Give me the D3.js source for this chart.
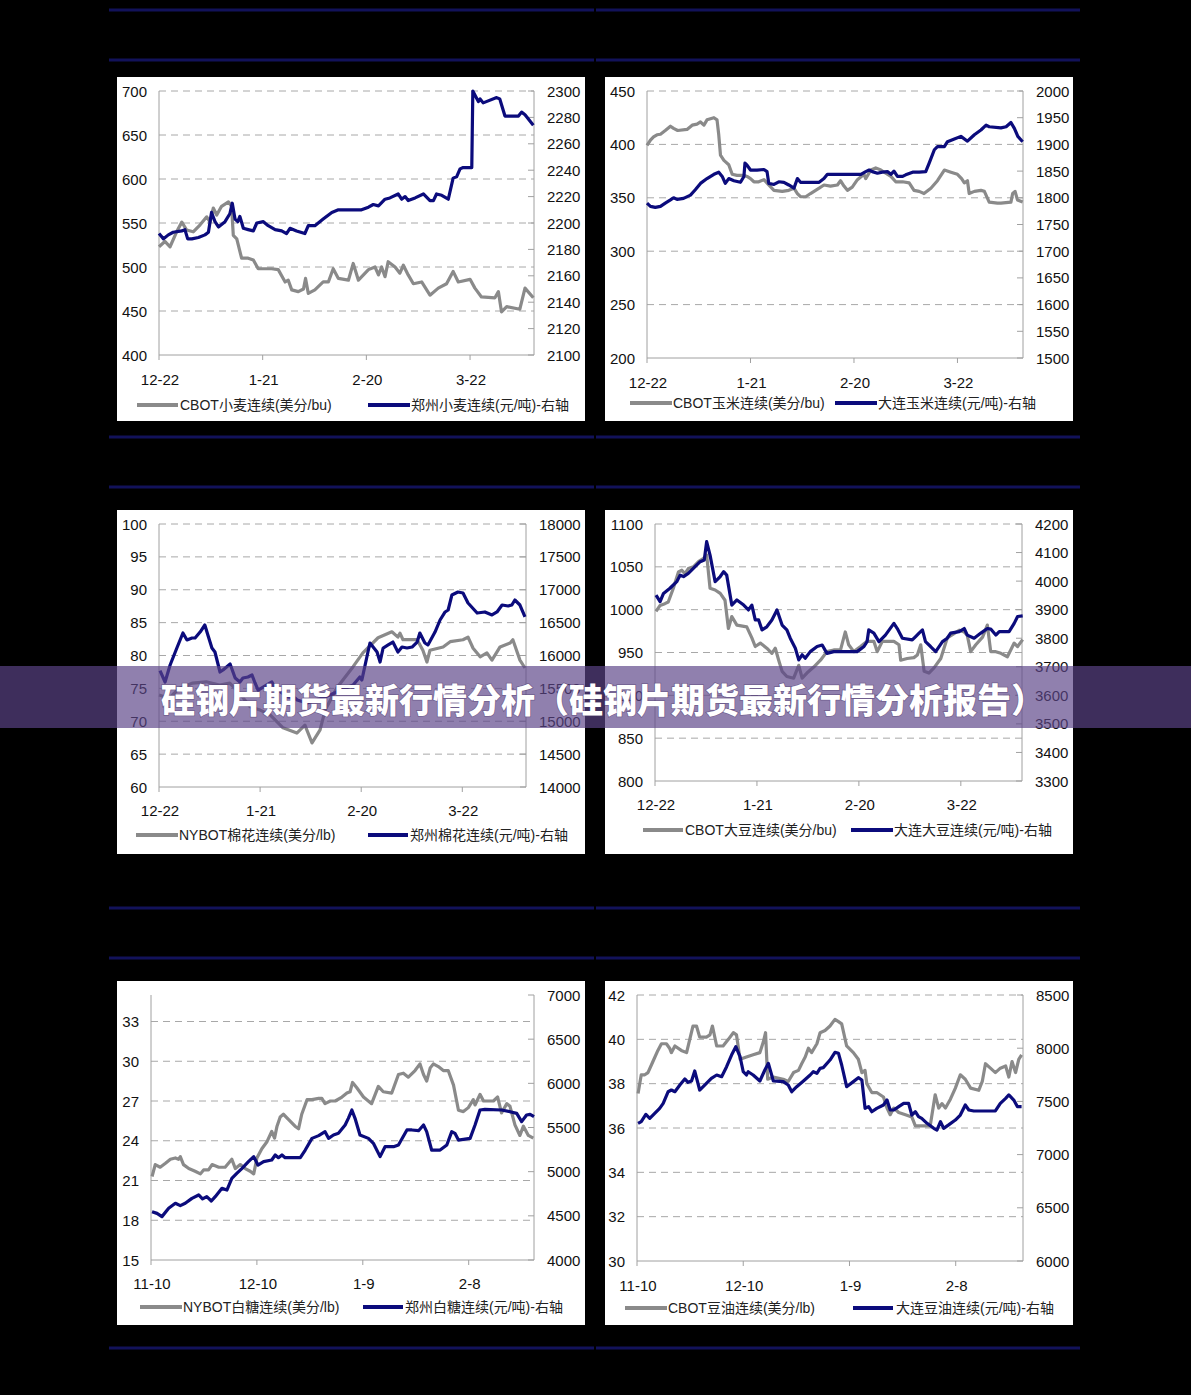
<!DOCTYPE html>
<html>
<head>
<meta charset="utf-8">
<script src="https://cdn.jsdelivr.net/npm/d3@7"></script>
<style>
  body { margin: 0; background: #000; }
  svg { display: block; }
  text { font-family: "Liberation Sans", Arial, "Noto Sans CJK SC", sans-serif; }
</style>
</head>
<body>
<div id="container"></div>
<script>
//x axis labels (day offsets from first label)
var tickDays = [0, 30, 60, 90];
var labelsDec = ["12-22", "1-21", "2-20", "3-22"];
var labelsNov = ["11-10", "12-10", "1-9", "2-8"];

//wheat: [day, value]
var wheatCbot = [[0,523],[1.7,529],[3.2,523],[5.1,540],[6.6,551],[8,542],[9.9,540],[11.9,548],[13.8,557],[14.8,551],[15.7,567],[16.7,559],[18.1,569],[20.1,574],[21,569],[21.5,536],[22.5,532],[23.9,510],[25.8,510],[27.3,508],[28.7,498],[30.2,498],[32.6,498],[34.5,497],[36.5,483],[37.4,485],[38.4,474],[40.3,472],[41.8,475],[42.4,487],[43.2,470],[45.1,474],[47.5,483],[49,483],[50.4,498],[51.9,487],[54.8,485],[56.2,504],[57.7,485],[60.6,497],[62.5,500],[63.5,491],[64.4,500],[65.4,489],[66.3,506],[68.3,500],[69.7,493],[70.7,502],[72.1,491],[73.6,481],[76,483],[78.4,468],[80.8,476],[83.2,481],[85.1,495],[86.6,483],[90,486],[91.4,476],[93.3,466],[97.2,465],[98.2,472],[99.1,449],[100.6,455],[104.4,452],[105.9,476],[108.3,465]];
var wheatZz = [[0,2192],[1.3,2188],[2.7,2191],[4.1,2193],[6.6,2194],[7.5,2195],[8.3,2188],[9.5,2188],[11.4,2189],[13.3,2191],[14.3,2193],[15.2,2208],[16.2,2201],[17.2,2197],[19.1,2201],[20.5,2207],[21.2,2215],[22,2203],[22.8,2201],[23.4,2205],[24.4,2196],[25.8,2195],[27.3,2194],[28.3,2200],[30.2,2201],[31.6,2198],[33.6,2195],[35.5,2194],[36.9,2192],[37.9,2196],[39.8,2194],[42.2,2192],[43.2,2198],[45.1,2198],[47.5,2203],[50,2208],[51.9,2210],[54.8,2210],[58.6,2210],[60.6,2212],[62,2214],[63.5,2213],[65.4,2218],[66.8,2219],[69.2,2222],[70.2,2218],[71.2,2220],[72.1,2217],[74.1,2219],[76.5,2222],[78.4,2217],[79.4,2217],[80.3,2222],[81.8,2221],[83.7,2218],[85.1,2234],[86.1,2235],[87.1,2241],[88,2242],[90.5,2242],[90.8,2300],[91.4,2297],[92.4,2292],[92.9,2294],[93.8,2291],[97.7,2295],[98.6,2294],[100.1,2281],[101.1,2281],[104,2281],[104.9,2284],[105.9,2282],[108.3,2274]];

//corn
var cornCbot = [[0,399],[1,404],[1.9,407],[2.9,409],[3.9,409.5],[5.3,413],[6.8,417],[7.7,415],[8.9,413],[11.6,414],[13.1,418],[14.5,419],[15.5,421],[16.5,418],[17.4,423],[19.4,425],[20.3,423],[20.8,409],[21.3,390],[22.3,385],[23.7,381],[24.7,372],[26.1,371],[28.1,371],[29,370],[30,368],[31,365],[32.4,365],[33.9,367],[35.3,362],[36.8,357],[39.2,356],[41.1,357],[42.6,359],[43.6,354],[44.5,351],[46,351],[47.4,354],[49.9,359],[51.3,362],[53.2,361],[55.2,362],[56.1,366],[57.1,361],[58.1,357],[59.5,360],[61,367],[62.9,372],[63.4,368],[64.9,376],[66.3,378],[67.8,376],[69.2,373],[70.7,370],[72.1,365],[74.1,365],[76,364],[77.4,357],[78.9,356],[80.3,354],[82.3,359],[84.2,366],[86.2,376],[88.1,374],[90,372],[91.2,368],[92,364],[92.9,366],[93.4,354],[94.9,356],[96.8,357],[97.8,356],[99.2,346],[101.6,345],[102.6,345],[105.5,346],[106,354],[106.7,356],[107.4,348],[108.9,346]];
var cornDl = [[0,1790],[1,1784],[2.4,1782],[3.9,1784],[5.3,1790],[6.8,1796],[7.7,1800],[8.7,1797],[10.6,1799],[12.6,1805],[14,1815],[15.5,1827],[17.4,1836],[19.4,1844],[20.8,1848],[21.8,1840],[22.7,1827],[23.7,1836],[25.2,1832],[27.1,1829],[28.1,1840],[28.4,1865],[29,1861],[30,1852],[31.9,1852],[33.9,1853],[34.8,1849],[35.3,1827],[36.8,1825],[38.2,1830],[39.7,1829],[41.1,1824],[42.6,1818],[43.6,1836],[44.5,1829],[46.5,1829],[49.9,1829],[51.3,1836],[52.3,1844],[54.2,1844],[62,1844],[63.4,1849],[64.4,1852],[65.3,1849],[66.8,1846],[68.2,1848],[69.7,1849],[70.7,1844],[71.6,1850],[72.6,1840],[74.1,1840],[75,1843],[77,1848],[78.9,1848],[80.8,1849],[81.8,1865],[83.3,1890],[84.2,1896],[86.2,1896],[87.1,1905],[89.1,1910],[91,1915],[92.9,1906],[94.9,1918],[96.8,1927],[98.3,1936],[99.2,1933],[102.6,1931],[104.1,1933],[105.5,1941],[106.5,1930],[107.5,1915],[108.9,1905]];

//cotton
var cottonNy = [[0,74],[3,73.5],[6,75],[10,75.8],[14,76],[18,75.5],[21,75.8],[24,74.2],[27,72.2],[30,71.7],[32.9,71],[36.8,69],[40.9,68.2],[43.3,69.4],[45.4,66.7],[47.8,68.7],[49.3,71.7],[52.8,75.1],[57.6,78.3],[60.5,80.4],[65,82.7],[69.1,83.6],[70.9,82.8],[71.5,83.4],[72.4,82.4],[76.6,82.4],[78.3,80.8],[79.5,79],[80.4,80.8],[84.3,81.3],[86.4,82.1],[90.2,82.4],[91.7,82.8],[93.2,81.1],[95.3,79.8],[97.3,80.4],[98.8,79.3],[101.2,81.3],[104.2,81.9],[105,82.4],[107.1,79.3],[108.6,78.1]];
var cottonZz = [[0.3,15769],[1.8,15597],[3.3,15855],[5.3,16114],[7.1,16342],[8.3,16236],[9.8,16266],[10.7,16266],[12.2,16357],[13.6,16464],[14.5,16312],[15.7,16114],[16.6,16053],[18.1,15749],[19,15779],[21.1,15870],[22.6,15658],[24,15597],[24.9,15658],[26.4,15673],[27.6,15703],[28.5,15582],[29.4,15475],[33.5,15597],[34.4,15505],[36.5,15430],[38.3,15370],[40.4,15353],[41,15323],[43.9,15277],[46.9,15323],[50.7,15399],[57.6,15551],[59.6,15673],[60.2,15627],[62,16053],[62.6,16190],[64.7,16053],[65.6,15901],[66.5,16114],[68,16160],[69.4,16205],[70.9,16053],[72.1,16129],[73.6,16114],[75.1,16129],[76.6,16205],[77.4,16342],[78.9,16190],[79.8,16160],[81.9,16357],[83.4,16540],[84.9,16662],[85.8,16692],[86.9,16920],[88.7,16966],[90.2,16951],[91.7,16798],[94.4,16646],[96.7,16662],[98.8,16616],[100.3,16662],[101.8,16768],[103.6,16753],[104.7,16768],[105.6,16844],[107.1,16768],[108.6,16586]];

//soybean
var soyCbot = [[0.3,998],[1.5,1005],[2.9,1007],[3.9,1009],[5.4,1025],[6.9,1044],[7.9,1046],[8.8,1042],[9.8,1048],[11.3,1050],[12.8,1056],[14.3,1060],[15.2,1064],[16.2,1025],[17.7,1023],[19.2,1019],[20.6,1011],[21.6,978],[22.6,992],[24.1,982],[27,980],[28.5,967],[29.5,957],[31,961],[32.9,955],[34.4,949],[35.4,955],[36.4,941],[37.4,928],[38.8,922],[40.8,920],[42.3,935],[43.3,920],[44.7,926],[46.7,933],[48.7,941],[50.6,951],[52.6,953],[54.6,953],[56,974],[57,959],[58.5,951],[60.5,957],[62.4,963],[64.4,963],[65.4,951],[66.9,963],[68.3,963],[70.3,963],[71.8,959],[72.3,941],[74.2,943],[76.2,944],[77.2,947],[78.2,959],[79.2,928],[80.6,926],[82.1,932],[84.1,943],[86,967],[88,972],[89.5,976],[91,974],[91.9,970],[92.9,951],[94.4,959],[96.4,968],[97.8,982],[98.8,951],[100.3,951],[101.8,949],[103.7,945],[105.7,961],[106.7,957],[108.2,965]];
var soyDl = [[0.3,3951],[1.5,3928],[2.5,3957],[4.4,3975],[6.4,3998],[7.4,4021],[8.4,4016],[9.8,4027],[11.8,4051],[13.3,4068],[14.5,4074],[15.2,4138],[16.2,4091],[17.7,3998],[19.2,4016],[20.2,4033],[21.1,4021],[22.6,3916],[24.1,3934],[26.1,3916],[27.5,3899],[28.5,3916],[29.5,3864],[30.5,3864],[31.5,3829],[32.9,3840],[34.4,3864],[35.9,3899],[37.4,3846],[38.8,3829],[39.8,3800],[41.3,3765],[42.3,3724],[43.3,3742],[44.2,3730],[45.7,3753],[47.7,3771],[49.2,3776],[50.6,3747],[52.6,3753],[56.5,3753],[59.5,3753],[61.5,3771],[62.4,3788],[62.9,3829],[64.4,3818],[65.9,3788],[67.8,3811],[70.3,3852],[71.3,3834],[72.8,3800],[75.7,3794],[76.7,3806],[77.7,3818],[78.7,3829],[79.6,3788],[81.1,3771],[82.6,3753],[84.6,3788],[86,3800],[87,3818],[89.5,3823],[91,3834],[91.9,3811],[93.9,3800],[95.9,3818],[97.8,3834],[98.8,3832],[100.3,3811],[101.3,3823],[104.2,3823],[105.7,3852],[106.7,3876],[108.2,3878]];

//sugar
var sugarNy = [[0.3,21.3],[1.2,22.2],[2.6,22],[4.1,22.3],[5.5,22.6],[6.9,22.7],[7.8,22.6],[8.3,22.8],[9.2,22.2],[10.7,21.9],[12.5,21.7],[14,21.5],[14.9,21.8],[16.3,21.8],[17.3,22.2],[19.2,22],[21,22],[22.9,22.6],[23.9,21.9],[25.3,22.2],[26.7,21.9],[28.1,21.7],[29.1,21.5],[30,22.7],[31.4,23.4],[32.8,23.9],[34.2,24.7],[35,24.2],[35.7,25.1],[36.6,25.8],[37.5,26],[39,25.6],[40.8,25.1],[41.8,24.9],[42.7,26],[44.2,27.1],[45.6,27.1],[47.5,27.2],[48.4,27.2],[49.3,26.8],[50.8,27],[52.2,27],[54.1,27.3],[55.5,27.6],[56.4,27.7],[57.1,28.4],[58.3,28],[60.2,27.3],[62.5,26.8],[64.4,28.1],[65.8,27.7],[68.2,27.6],[70.1,29],[71.5,29.1],[72.9,28.8],[74.8,29.3],[76.2,29.8],[77.2,29],[78.1,28.5],[79.1,29.5],[80,29.8],[81.4,29.6],[82.8,29.3],[84.2,29.3],[85.7,28.2],[87.1,26.3],[88.5,26.2],[89.9,26.5],[91.3,27.1],[91.8,26.7],[93.2,27.5],[94.2,27],[97,27],[98.2,27.3],[99.3,26.1],[100.8,26.8],[101.7,26.6],[103.1,25.2],[104.5,24.4],[105.5,25.1],[106.9,24.4],[108.3,24.2]];
var sugarZz = [[0.3,4547],[1.7,4528],[3.1,4491],[5,4585],[6.9,4642],[8.3,4615],[9.7,4642],[11.6,4698],[13.5,4736],[14.6,4691],[15.8,4717],[17.1,4668],[18.2,4717],[20.1,4811],[21.5,4792],[22.9,4925],[24.3,4981],[25.8,5038],[27.6,5113],[29.1,5170],[30.3,5075],[31.9,5113],[34.2,5132],[35.2,5189],[36.1,5158],[37.1,5189],[38,5158],[42.3,5158],[43.7,5245],[45.6,5377],[47.5,5408],[49.3,5453],[50.3,5377],[51.7,5415],[53.1,5434],[55,5528],[55.9,5604],[56.9,5698],[57.8,5604],[59.2,5415],[61.6,5377],[63,5321],[64.9,5170],[66.3,5283],[68.7,5283],[70.1,5302],[72.5,5472],[73.9,5472],[75.8,5464],[77.2,5528],[78.1,5453],[79.5,5245],[81.9,5245],[83.8,5302],[85.2,5453],[86.1,5434],[87.1,5358],[90.4,5377],[91.8,5528],[93.2,5698],[94.6,5706],[99.3,5698],[101.7,5679],[103.6,5660],[105,5566],[106.4,5642],[107.4,5649],[108.5,5623]];

//soybean oil
var oilCbot = [[0.3,37.56],[1.2,38.4],[2.2,38.4],[3.1,38.5],[4.5,39],[5.9,39.5],[6.9,39.8],[8.3,39.8],[9.2,39.6],[9.7,39.4],[10.7,39.7],[12.5,39.5],[14,39.4],[14.9,40],[15.8,40.6],[16.8,40.6],[17.7,40.1],[19.6,40.1],[20.6,40.2],[21.3,40.6],[22.5,39.7],[24.3,39.7],[25.8,40],[27.2,40.3],[28.1,40.2],[29.1,39.1],[30.9,39.2],[32.8,39.3],[34.7,39.4],[35.7,39.9],[36.3,40.3],[36.9,38.2],[38.5,38.3],[41.3,38.2],[42.7,38.1],[44.2,38.5],[45.6,38.6],[46.5,38.9],[47.5,39.2],[48.4,39.6],[49.3,39.4],[50.8,39.8],[51.7,40.3],[53.1,40.4],[54.5,40.6],[55.9,40.9],[56.9,40.8],[57.8,40.7],[59.2,39.7],[61.1,39.4],[62.5,39.1],[63.5,38.5],[64.4,38.6],[64.9,38],[66.3,37.6],[67.7,37.6],[69.6,37.4],[70.6,36.9],[71.5,36.6],[72.5,36.9],[73.9,36.7],[75.8,36.6],[77.6,36.5],[78.6,36.1],[80.9,36.1],[82.8,36.1],[84.2,37.5],[85.2,36.9],[86.1,37.1],[87.1,36.9],[88.5,37.3],[89.9,37.8],[91.3,38.4],[92.7,38.2],[94.2,37.8],[96.5,37.7],[97.5,38.1],[98.4,38.9],[99.8,38.7],[101.2,38.5],[102.6,38.7],[104.1,38.8],[105,38.3],[105.9,39],[106.9,38.5],[107.8,39.1],[108.6,39.3]];
var oilDl = [[0.3,7294],[1.2,7310],[2.5,7378],[3.6,7341],[5,7388],[6.4,7435],[7.4,7482],[8.8,7591],[9.7,7607],[10.7,7591],[12.1,7654],[13.5,7711],[14.4,7679],[15.4,7692],[16.3,7786],[17.7,7607],[19.6,7670],[21,7717],[22.5,7748],[23.9,7732],[25.3,7826],[26.7,7936],[27.9,8014],[29.1,7920],[30,7779],[30.9,7748],[31.4,7779],[32.8,7748],[34.7,7692],[36.1,7795],[37.1,7858],[38.5,7692],[41.3,7686],[42.7,7654],[43.7,7591],[45.1,7638],[47,7692],[48.9,7748],[49.8,7779],[50.8,7764],[51.7,7811],[52.6,7817],[54.5,7889],[55.9,7961],[56.9,7952],[57.8,7842],[59.2,7638],[61.1,7686],[62.5,7723],[63.5,7701],[64.4,7435],[65.4,7451],[66.3,7403],[67.7,7435],[69.6,7466],[70.6,7513],[71.5,7419],[72.5,7419],[73.9,7451],[75.3,7482],[76.7,7482],[77.6,7372],[78.6,7403],[79.5,7357],[80.4,7341],[81.9,7294],[83.8,7247],[84.7,7231],[85.7,7310],[86.6,7247],[88,7279],[89.9,7325],[91.3,7372],[92.7,7466],[93.7,7419],[95.1,7410],[98.9,7410],[101.2,7410],[102.6,7482],[104.1,7529],[105,7561],[106.4,7513],[107.4,7451],[108.6,7451]];

var titleText = "硅钢片期货最新行情分析（硅钢片期货最新行情分析报告）";

window.onload = draw;

function draw() {
    var svg = d3.select("#container")
        .append("svg")
        .attr("width", 1191)
        .attr("height", 1395);

    svg.append("rect").attr("width", 1191).attr("height", 1395).attr("fill", "#000");

    //navy separator lines
    [10, 60, 437, 487, 908, 958, 1348].forEach(function (y) {
        [[109, 594], [596, 1080]].forEach(function (seg) {
            svg.append("line")
                .attr("x1", seg[0]).attr("x2", seg[1])
                .attr("y1", y).attr("y2", y)
                .attr("stroke", "#12125a")
                .attr("stroke-width", 3);
        });
    });

    var panels = [
        {box: [117, 77, 585, 421], plot: [159, 534, 91, 355], xMax: 108.5, xLabels: labelsDec, labelY: 379, legendY: 405,
         left: [400, 700], leftTicks: d3.range(400, 701, 50), right: [2100, 2300], rightTicks: d3.range(2100, 2301, 20),
         gray: wheatCbot, navy: wheatZz, names: ["CBOT小麦连续(美分/bu)", "郑州小麦连续(元/吨)-右轴"], leg: [137, 178, 180, 368, 410, 411]},
        {box: [605, 77, 1073, 421], plot: [647, 1023, 91, 358], xMax: 109, xLabels: labelsDec, labelY: 382, legendY: 403,
         left: [200, 450], leftTicks: d3.range(200, 451, 50), right: [1500, 2000], rightTicks: d3.range(1500, 2001, 50),
         gray: cornCbot, navy: cornDl, names: ["CBOT玉米连续(美分/bu)", "大连玉米连续(元/吨)-右轴"], leg: [630, 672, 673, 835, 877, 878]},
        {box: [117, 510, 585, 854], plot: [159, 526, 524, 787], xMax: 108.9, xLabels: labelsDec, labelY: 810, legendY: 835,
         left: [60, 100], leftTicks: d3.range(60, 101, 5), right: [14000, 18000], rightTicks: d3.range(14000, 18001, 500),
         gray: cottonNy, navy: cottonZz, names: ["NYBOT棉花连续(美分/lb)", "郑州棉花连续(元/吨)-右轴"], leg: [136, 178, 179, 368, 408, 410]},
        {box: [605, 510, 1073, 854], plot: [655, 1022, 524, 781], xMax: 108, xLabels: labelsDec, labelY: 804, legendY: 830,
         left: [800, 1100], leftTicks: d3.range(800, 1101, 50), right: [3300, 4200], rightTicks: d3.range(3300, 4201, 100),
         gray: soyCbot, navy: soyDl, names: ["CBOT大豆连续(美分/bu)", "大连大豆连续(元/吨)-右轴"], leg: [643, 683, 685, 851, 893, 894]},
        {box: [117, 981, 585, 1325], plot: [151, 534, 995, 1260], xMax: 108.5, xLabels: labelsNov, labelY: 1283, legendY: 1307,
         left: [15, 35], leftTicks: d3.range(15, 34, 3), right: [4000, 7000], rightTicks: d3.range(4000, 7001, 500),
         gray: sugarNy, navy: sugarZz, names: ["NYBOT白糖连续(美分/lb)", "郑州白糖连续(元/吨)-右轴"], leg: [140, 182, 183, 363, 403, 405]},
        {box: [605, 981, 1073, 1325], plot: [637, 1023, 995, 1261], xMax: 109, xLabels: labelsNov, labelY: 1285, legendY: 1308,
         left: [30, 42], leftTicks: d3.range(30, 43, 2), right: [6000, 8500], rightTicks: d3.range(6000, 8501, 500),
         gray: oilCbot, navy: oilDl, names: ["CBOT豆油连续(美分/lb)", "大连豆油连续(元/吨)-右轴"], leg: [625, 667, 668, 853, 893, 896]}
    ];

    panels.forEach(function (p) { drawPanel(svg, p); });

    //title banner across the middle
    svg.append("rect")
        .attr("x", 0).attr("y", 666)
        .attr("width", 1191).attr("height", 62)
        .attr("fill", "rgb(92,68,135)")
        .attr("fill-opacity", 0.68);

    svg.append("text")
        .attr("x", 603).attr("y", 698)
        .attr("text-anchor", "middle")
        .attr("dominant-baseline", "central")
        .style("font-family", '"Noto Sans CJK SC", sans-serif')
        .style("font-weight", 900)
        .style("font-size", "34px")
        .attr("fill", "#fff")
        .attr("stroke", "rgba(70,50,100,0.45)")
        .attr("stroke-width", 1.5)
        .attr("paint-order", "stroke")
        .text(titleText);
}

function drawPanel(svg, p) {
    var g = svg.append("g");
    var L = p.plot[0], R = p.plot[1], T = p.plot[2], B = p.plot[3];

    g.append("rect")
        .attr("x", p.box[0]).attr("y", p.box[1])
        .attr("width", p.box[2] - p.box[0]).attr("height", p.box[3] - p.box[1])
        .attr("fill", "#fff");

    var x = d3.scaleLinear().domain([0, p.xMax]).range([L, R]);
    var yL = d3.scaleLinear().domain(p.left).range([B, T]);
    var yR = d3.scaleLinear().domain(p.right).range([B, T]);

    //dashed gridlines
    g.selectAll(".grid")
        .data(p.leftTicks.filter(function (v) { return v > p.left[0]; }))
        .enter()
        .append("line")
        .attr("x1", L).attr("x2", R)
        .attr("y1", function (d) { return yL(d); })
        .attr("y2", function (d) { return yL(d); })
        .attr("stroke", "#a8a8a8")
        .attr("stroke-width", 1)
        .attr("stroke-dasharray", "7,5");

    var axisColor = "#a0a0a0";
    //left, right and bottom axis lines
    g.append("line").attr("x1", L).attr("x2", L).attr("y1", T).attr("y2", B).attr("stroke", axisColor);
    g.append("line").attr("x1", R).attr("x2", R).attr("y1", T).attr("y2", B).attr("stroke", axisColor);
    g.append("line").attr("x1", L).attr("x2", R).attr("y1", B).attr("y2", B).attr("stroke", axisColor);

    //right axis inner ticks
    g.selectAll(".rtick")
        .data(p.rightTicks)
        .enter()
        .append("line")
        .attr("x1", R - 6).attr("x2", R)
        .attr("y1", function (d) { return yR(d); })
        .attr("y2", function (d) { return yR(d); })
        .attr("stroke", axisColor);

    //x ticks
    g.selectAll(".xtick")
        .data(tickDays)
        .enter()
        .append("line")
        .attr("x1", function (d) { return x(d); })
        .attr("x2", function (d) { return x(d); })
        .attr("y1", B).attr("y2", B + 5)
        .attr("stroke", axisColor);

    //tick labels
    g.selectAll(".ltext")
        .data(p.leftTicks)
        .enter()
        .append("text")
        .attr("x", L - 12)
        .attr("y", function (d) { return yL(d); })
        .attr("text-anchor", "end")
        .attr("dominant-baseline", "central")
        .style("font-size", "15px")
        .attr("fill", "#111")
        .text(function (d) { return d; });

    g.selectAll(".rtext")
        .data(p.rightTicks)
        .enter()
        .append("text")
        .attr("x", R + 13)
        .attr("y", function (d) { return yR(d); })
        .attr("dominant-baseline", "central")
        .style("font-size", "15px")
        .attr("fill", "#111")
        .text(function (d) { return d; });

    g.selectAll(".xtext")
        .data(tickDays)
        .enter()
        .append("text")
        .attr("x", function (d) { return x(d) + 1; })
        .attr("y", p.labelY)
        .attr("text-anchor", "middle")
        .attr("dominant-baseline", "central")
        .style("font-size", "15px")
        .attr("fill", "#111")
        .text(function (d, i) { return p.xLabels[i]; });

    //series lines
    var lineL = d3.line().x(function (d) { return x(d[0]); }).y(function (d) { return yL(d[1]); });
    var lineR = d3.line().x(function (d) { return x(d[0]); }).y(function (d) { return yR(d[1]); });

    g.append("path")
        .datum(p.gray)
        .attr("d", lineL)
        .attr("fill", "none")
        .attr("stroke", "#8a8a8a")
        .attr("stroke-width", 3.2)
        .attr("stroke-linejoin", "round");

    g.append("path")
        .datum(p.navy)
        .attr("d", lineR)
        .attr("fill", "none")
        .attr("stroke", "#0b0b7c")
        .attr("stroke-width", 3.2)
        .attr("stroke-linejoin", "round");

    //legend
    var lg = p.leg;
    g.append("line").attr("x1", lg[0]).attr("x2", lg[1]).attr("y1", p.legendY).attr("y2", p.legendY)
        .attr("stroke", "#8a8a8a").attr("stroke-width", 4);
    g.append("text").attr("x", lg[2]).attr("y", p.legendY)
        .attr("dominant-baseline", "central")
        .style("font-size", "14px").attr("fill", "#222")
        .text(p.names[0]);
    g.append("line").attr("x1", lg[3]).attr("x2", lg[4]).attr("y1", p.legendY).attr("y2", p.legendY)
        .attr("stroke", "#0b0b7c").attr("stroke-width", 4);
    g.append("text").attr("x", lg[5]).attr("y", p.legendY)
        .attr("dominant-baseline", "central")
        .style("font-size", "14px").attr("fill", "#222")
        .text(p.names[1]);
}
</script>
</body>
</html>
